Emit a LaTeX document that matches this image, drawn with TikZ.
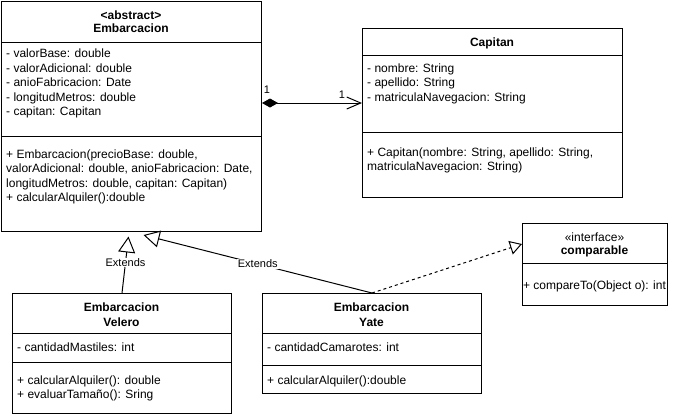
\documentclass[tikz,border=0pt]{standalone}
\usepackage{fontspec}
\setmainfont{Liberation Sans}
\usetikzlibrary{arrows.meta}
\newcommand\umlfont{\fontsize{12}{14.5}\selectfont}
\newcommand\edgefont{\fontsize{11}{13}\selectfont}
\begin{document}
\begin{tikzpicture}[x=1pt,y=-1pt,
  cls/.style={draw, line width=1pt, fill=white, anchor=north west, inner sep=0pt},
  sepline/.style={line width=1pt},
  txt/.style={anchor=west, inner sep=0pt, text height=8pt, text depth=0pt, font=\umlfont},
  ttl/.style={anchor=center, inner sep=0pt, text height=8pt, text depth=0pt, font=\umlfont\bfseries},
  stereo/.style={anchor=center, inner sep=0pt, text height=8pt, text depth=0pt, font=\umlfont},
  elbl/.style={anchor=center, inner sep=1pt, text height=7.5pt, text depth=0pt, font=\edgefont},
  conn/.style={line width=1pt}]
\useasboundingbox (0,0) rectangle (673,418);

% ---------- class boxes ----------
\node[cls, minimum width=260pt, minimum height=230pt] (emb) at (1,1) {};
\node[cls, minimum width=260pt, minimum height=169pt] (cap) at (362,28) {};
\node[cls, minimum width=219pt, minimum height=120pt] (vel) at (12,293) {};
\node[cls, minimum width=219pt, minimum height=100pt] (yate) at (262,293) {};
\node[cls, minimum width=145pt, minimum height=82pt] (cmp) at (522,223) {};

% ---------- separators ----------
\draw[sepline] (emb.west |- 0,42) -- (emb.east |- 0,42);
\draw[sepline] (emb.west |- 0,136) -- (emb.east |- 0,136);
\draw[sepline] (cap.west |- 0,55) -- (cap.east |- 0,55);
\draw[sepline] (cap.west |- 0,132) -- (cap.east |- 0,132);
\draw[sepline] (vel.west |- 0,333) -- (vel.east |- 0,333);
\draw[sepline] (vel.west |- 0,362) -- (vel.east |- 0,362);
\draw[sepline] (yate.west |- 0,333) -- (yate.east |- 0,333);
\draw[sepline] (yate.west |- 0,365) -- (yate.east |- 0,365);
\draw[sepline] (cmp.west |- 0,263) -- (cmp.east |- 0,263);

% ---------- Embarcacion ----------
\node[ttl] (embS) at (131,15) {<abstract>};
\node[ttl] (embT) at (131,28.5) {Embarcacion};
\node[txt] (ea1) at (6,53.5) {- valorBase: double};
\node[txt] (ea2) at (6,68) {- valorAdicional: double};
\node[txt] (ea3) at (6,82.5) {- anioFabricacion: Date};
\node[txt] (ea4) at (6,97) {- longitudMetros: double};
\node[txt] (ea5) at (6,111.5) {- capitan: Capitan};
\node[txt] (em1) at (6,154) {+ Embarcacion(precioBase: double,};
\node[txt] (em2) at (6,168.5) {valorAdicional: double, anioFabricacion: Date,};
\node[txt] (em3) at (6,183) {longitudMetros: double, capitan: Capitan)};
\node[txt] (em4) at (6,197.5) {+ calcularAlquiler():double};

% ---------- Capitan ----------
\node[ttl] (capT) at (492,42.5) {Capitan};
\node[txt] (ca1) at (367,68) {- nombre: String};
\node[txt] (ca2) at (367,82.5) {- apellido: String};
\node[txt] (ca3) at (367,97) {- matriculaNavegacion: String};
\node[txt] (cm1) at (367,152) {+ Capitan(nombre: String, apellido: String,};
\node[txt] (cm2) at (367,166.5) {matriculaNavegacion: String)};

% ---------- Velero ----------
\node[ttl] (velT1) at (121.5,307.5) {Embarcacion};
\node[ttl] (velT2) at (121.5,322) {Velero};
\node[txt] (va1) at (17,347) {- cantidadMastiles: int};
\node[txt] (vm1) at (17,380) {+ calcularAlquiler(): double};
\node[txt] (vm2) at (17,394.5) {+ evaluarTamaño(): Sring};

% ---------- Yate ----------
\node[ttl] (yT1) at (371.5,307.5) {Embarcacion};
\node[ttl] (yT2) at (371.5,322) {Yate};
\node[txt] (ya1) at (267,347) {- cantidadCamarotes: int};
\node[txt] (ym1) at (267,380) {+ calcularAlquiler():double};

% ---------- comparable ----------
\node[stereo] (cmpS) at (594.5,237) {«interface»};
\node[ttl] (cmpT) at (594.5,250.5) {comparable};
\node[stereo] (cmpM) at (594.5,285) {+ compareTo(Object o): int};

% ---------- connectors ----------
\draw[conn, {Diamond[length=16pt,width=9pt]}-{Straight Barb[length=14pt,width=12pt]}]
  (emb.east |- 0,103) -- (cap.west |- 0,103);
\node[elbl] (m1) at (267,90) {1};
\node[elbl] (m2) at (342,95) {1};

\coordinate (velTip) at (128.5,236.5);
\coordinate (yateTip) at (143.5,235);
\draw[conn, -{Triangle[open,length=16pt,width=17pt]}]
  (vel.north) -- node[elbl, fill=white, pos=0.54] (ext1) {Extends} (velTip);
\draw[conn, -{Triangle[open,length=16pt,width=17pt]}]
  (yate.north) -- node[elbl, fill=white, pos=0.5] (ext2) {Extends} (yateTip);
\draw[conn, dash pattern=on 3pt off 3pt, -{Triangle[open,length=12pt,width=14pt]}]
  (yate.north) -- (cmp.west |- 0,244);
\end{tikzpicture}
\end{document}
